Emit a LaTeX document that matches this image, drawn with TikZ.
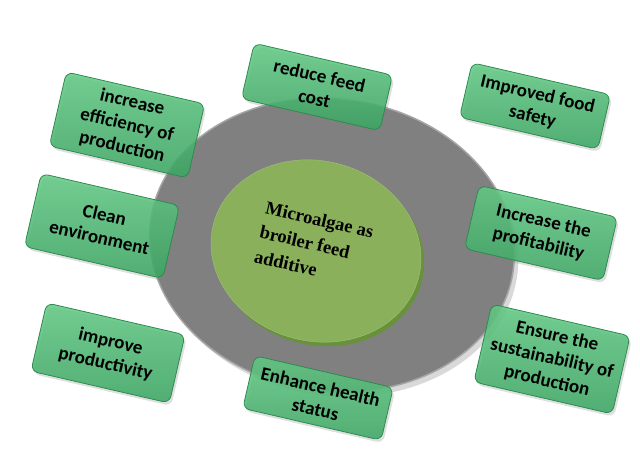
\documentclass[tikz,border=0pt]{standalone}
\usepackage{fontspec}
\setmainfont{Liberation Serif}
\newfontfamily\boxfont{Carlito}
\usetikzlibrary{shadows}
\definecolor{platec}{RGB}{128,128,128}
\definecolor{platerim}{RGB}{165,165,165}
\definecolor{diskc}{RGB}{138,176,92}
\definecolor{diskrim}{RGB}{104,146,58}
\definecolor{boxtop}{RGB}{98,202,132}
\definecolor{boxbot}{RGB}{58,166,98}
\definecolor{boxrim}{RGB}{46,138,80}
\begin{document}
\begin{tikzpicture}[x=1pt,y=1pt,line cap=round,
 box/.style={rounded corners=7pt,draw=boxrim,line width=.8pt,top color=boxtop,bottom color=boxbot,
  fill opacity=.86,text opacity=1,align=center,minimum width=142pt,inner sep=2pt,rotate=-13,
  font=\boxfont\bfseries\fontsize{19}{23}\selectfont,drop shadow={shadow xshift=2pt,shadow yshift=-3pt,opacity=.25}}]
\useasboundingbox (0,0) rectangle (640,460);
% plate and disk
\fill[black,opacity=.15] (336,210) ellipse[x radius=183,y radius=146,rotate=-8];
\draw[platerim,line width=1.5pt,fill=platec] (332,215) ellipse[x radius=183,y radius=146,rotate=-8];
\fill[diskrim] (319,205) ellipse[x radius=106,y radius=90,rotate=-15];
\draw[diskc!80!white,fill=diskc] (316,209) ellipse[x radius=106,y radius=90,rotate=-15];
\node[font=\bfseries\fontsize{18.5}{25}\selectfont,align=left,rotate=-13] (core) at (314,216) {Microalgae as\\broiler feed\\additive};
% the eight boxes
\foreach \x/\y/\h/\lab/\nm in {127/335/76/{increase\\efficiency of\\production}/eff,317/373/57/{reduce feed\\cost}/cost,
 535/354/56/{Improved food\\safety}/safety,102/234/75/{Clean\\environment}/clean,541/227/65/{Increase the\\profitability}/profit,
 108/107/70/{improve\\productivity}/prod,552/101/80/{Ensure the\\sustainability of\\production}/sust,318/62/54/{Enhance health\\status}/health}
 \node[box,minimum height=\h] (\nm) at (\x,\y) {\lab};
\end{tikzpicture}
\end{document}
